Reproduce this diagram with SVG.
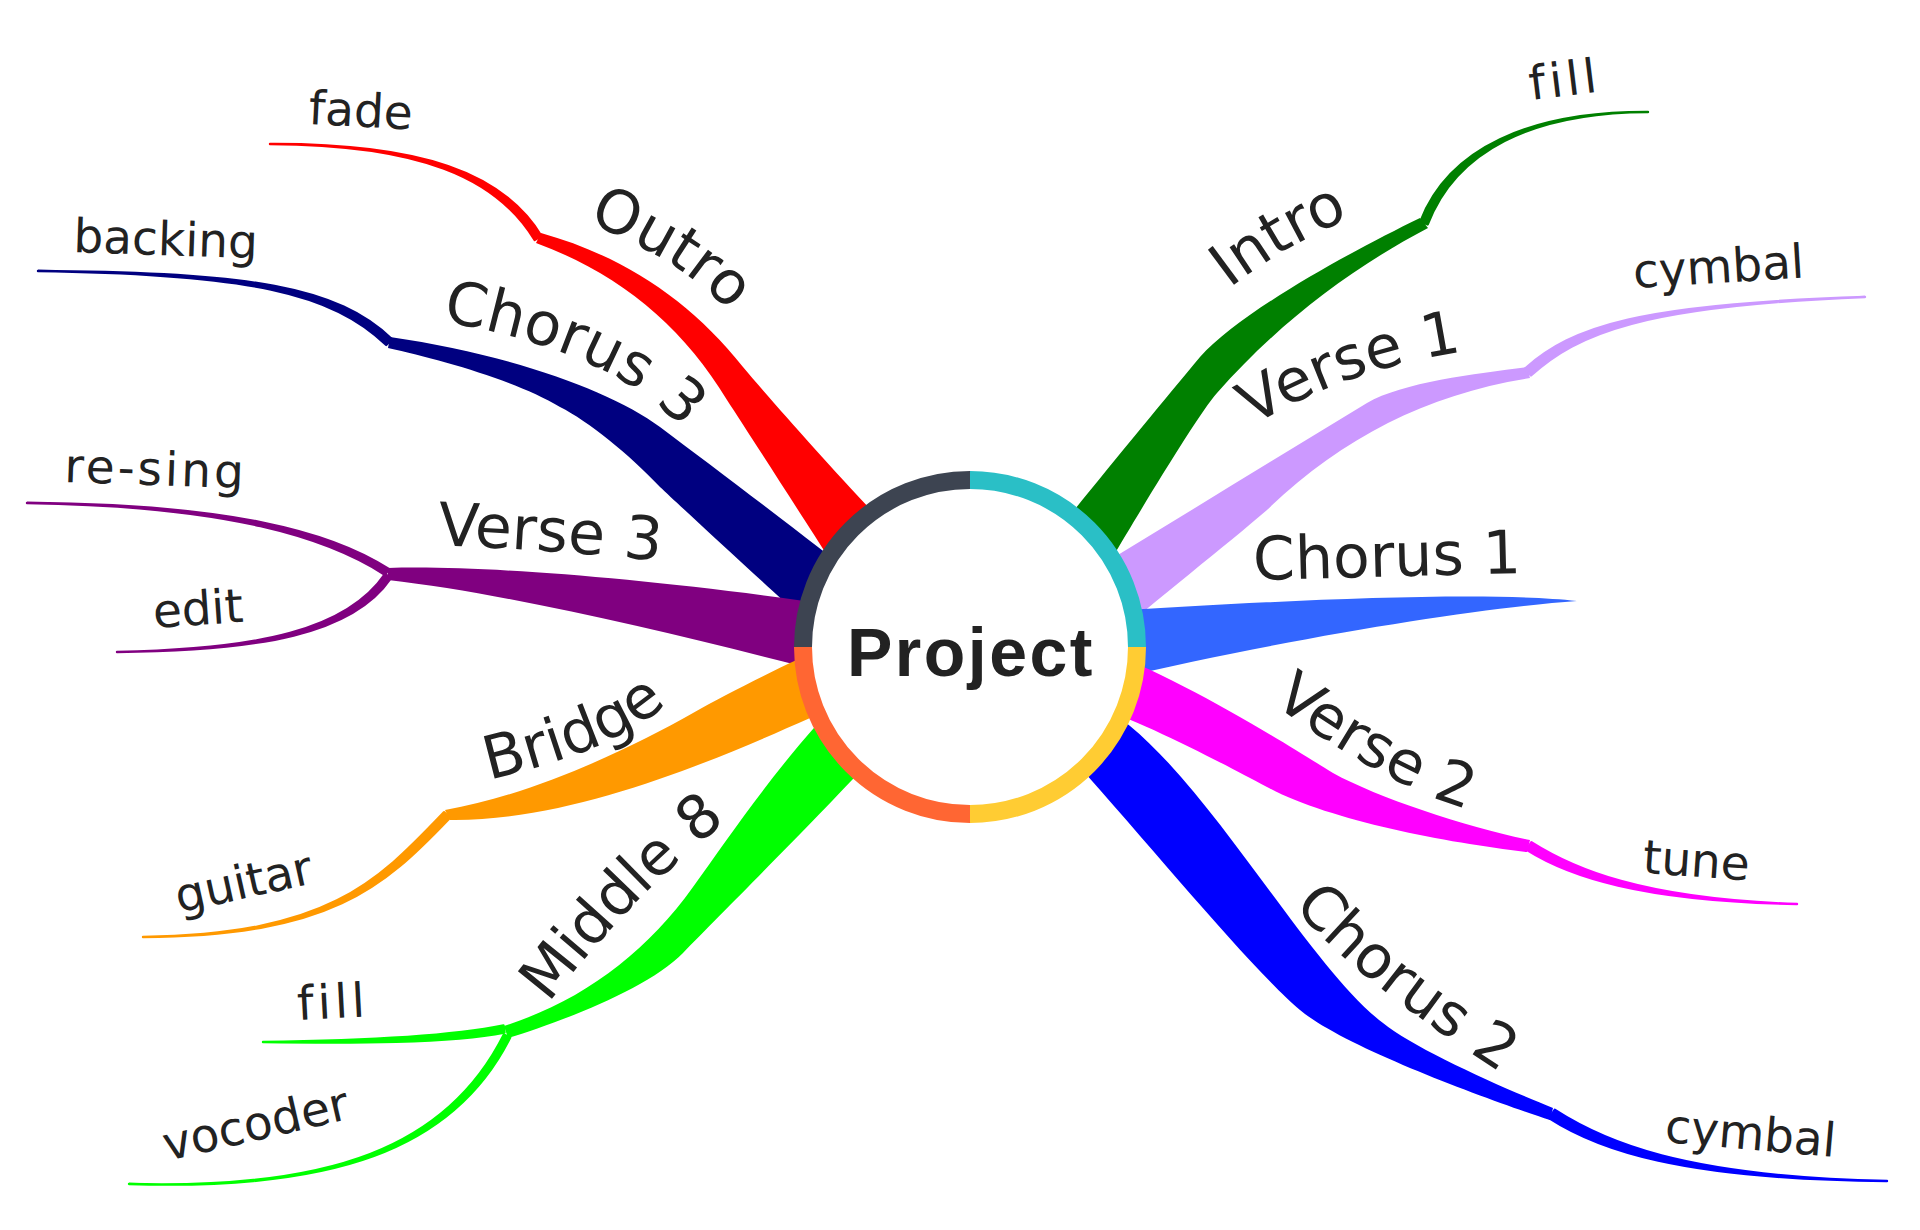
<svg xmlns="http://www.w3.org/2000/svg" width="1920" height="1230" viewBox="0 0 1920 1230">
<style>
.lbl{font-family:"DejaVu Sans","Liberation Sans",sans-serif;font-size:60px;fill:#222222}
.sub{font-family:"DejaVu Sans","Liberation Sans",sans-serif;font-size:47px;fill:#222222}
.thin{stroke-width:2.4;stroke-linejoin:round}
.ring{fill:none;stroke-width:18}
</style>
<defs>
<path id="p-outro" d="M547,206 L584,221 Q686,262 732,315 L758,345"/>
<path id="p-chorus3" d="M399.5,314.5 L439,321 Q614.5,350 684,431 L710,461.4"/>
<path id="p-verse3" d="M388,543.7 L428,545 Q550,549 670,562 L709.8,566.3"/>
<path id="p-bridge" d="M449,789.1 L488,780 Q622.5,748.5 667,703 L695,674.4"/>
<path id="p-middle8" d="M527.4,1030.5 L552,999 Q635,893 722,825 L753.5,800.4"/>
<path id="p-intro" d="M1190.7,318.9 L1222,294 Q1285,244 1358,215 L1395.2,200.2"/>
<path id="p-verse1" d="M1214.1,450.3 L1248,429 Q1345,368 1468,351 L1507.6,345.5"/>
<path id="p-chorus1" d="M1215,581 L1560,572"/>
<path id="p-verse2" d="M1236.6,677.5 L1269,701 Q1389,788 1471,810 L1509.6,820.4"/>
<path id="p-chorus2" d="M1271.4,876.5 L1296,908 Q1346,972 1498,1071 L1531.5,1092.8"/>
</defs>
<rect width="1920" height="1230" fill="#ffffff"/>
<g id="connectors">
<!-- Outro -->
<path fill="#ff0000" d="M541,233 C623,256 690,300 743,367 C775,405 860,500 900,540 L850,590 C835,568 752,438 727,400 C682,325 618,273 536,243 Z"/>
<path class="thin" fill="#ff0000" stroke="#ff0000" d="M541.4,236 C503.4,173 421,143.4 270,144 C419,144.6 496.6,177 534.6,240 Z"/>
<!-- Chorus 3 -->
<path fill="#000080" d="M390,337 C509,354 612,391 660,427 C720,472 810,540 860,580 L830,642 C800,617 690,515 660,487 C630,455 588,421 560,407 C515,380 438,359 388,348 Z"/>
<path class="thin" fill="#000080" stroke="#000080" d="M391.8,339.1 C337.8,287.1 250.8,272.1 38,271 C249.2,273.9 332.2,292.9 386.2,344.9 Z"/>
<!-- Verse 3 -->
<path fill="#800080" d="M388,568 C480,565 650,578 840,606 L840,676 C700,640 520,595 388,580 Z"/>
<path class="thin" fill="#800080" stroke="#800080" d="M388.9,569.1 C331.9,532.1 230.6,504.1 27,503 C229.4,505.9 328.1,537.9 385.1,574.9 Z"/>
<path class="thin" fill="#800080" stroke="#800080" d="M390.9,578 C352.9,634 260.9,650.6 117,652 C259.1,649.4 347.1,630 385.1,574 Z"/>
<!-- Bridge -->
<path fill="#ff9900" d="M445,810 C535,794.5 633,747 693,713 C730,692 790,662 830,645 L850,700 C760,740 590,822 450,820 Z"/>
<path class="thin" fill="#ff9900" stroke="#ff9900" d="M449.9,817.8 C382.9,887.8 330.9,935.8 143,937 C329.1,934.2 377.1,882.2 444.1,812.2 Z"/>
<!-- Middle 8 -->
<path fill="#00ff00" d="M504,1026 C582,1001 645,954 693,887 C733,831 789,749 850,690 L880,750 C830,805 730,905 683,953 C648,989 558,1023 508,1038 Z"/>
<path class="thin" fill="#00ff00" stroke="#00ff00" d="M504.5,1032.5 C450.5,1043.5 350.2,1043 263,1042 C349.8,1041 449.5,1036.5 503.5,1025.5 Z"/>
<path class="thin" fill="#00ff00" stroke="#00ff00" d="M510.2,1037.5 C453.2,1151.5 331,1190.5 129,1184 C329,1189.5 446.9,1148.5 503.9,1034.5 Z"/>
<!-- Intro -->
<path fill="#008000" d="M1050,540 C1100,478 1160,405 1200,357 C1240,312 1350,252 1420,218 L1428,228 C1348,270 1277,325 1217,393 C1193,420 1110,562 1090,595 Z"/>
<path class="thin" fill="#008000" stroke="#008000" d="M1427.7,224.4 C1455.7,151.4 1531.1,112.4 1648,112 C1528.9,111.6 1448.3,148.6 1420.3,221.6 Z"/>
<!-- Verse 1 -->
<path fill="#cc99ff" d="M1085,575 C1179,518 1273,460 1367,403 C1402,382 1477,373.6 1527,367 L1530,378 C1428,394 1341,438 1267,510 C1230,542 1150,605 1110,640 Z"/>
<path class="thin" fill="#cc99ff" stroke="#cc99ff" d="M1531,375.4 C1578,333.4 1640.9,306 1865,297 C1639.1,304 1572,326.6 1525,368.6 Z"/>
<!-- Chorus 1 -->
<path fill="#3366ff" d="M1100,612 C1250,602 1480,590 1577,601 C1480,608 1300,636 1110,680 Z"/>
<!-- Verse 2 -->
<path fill="#ff00ff" d="M1100,650 C1170,672 1280,740 1333,773 C1378,798 1470,828 1530,840 L1527,852 C1447,843 1327,820 1267,787 C1220,762 1140,720 1090,705 Z"/>
<path class="thin" fill="#ff00ff" stroke="#ff00ff" d="M1526.6,849.8 C1567.6,875.8 1639.3,901.1 1797,904 C1640.7,898.9 1572.4,868.2 1531.4,842.2 Z"/>
<!-- Chorus 2 -->
<path fill="#0000ff" d="M1090,700 C1190,745 1300,960 1383,1023 C1413,1048 1503,1088 1553,1108 L1550,1120 C1495,1102 1345,1048 1300,1010 C1250,968 1140,833 1060,745 Z"/>
<path class="thin" fill="#0000ff" stroke="#0000ff" d="M1549.3,1118.2 C1597.3,1149.2 1679.2,1179.3 1887,1181 C1680.8,1176.7 1602.7,1140.8 1554.7,1109.8 Z"/>
</g>
<g id="node-project">
<circle cx="970" cy="647" r="162" fill="#ffffff"/>
<path class="ring" stroke="#3d4451" d="M803,647 A167,167 0 0 1 970,480"/>
<path class="ring" stroke="#2abfc6" d="M970,480 A167,167 0 0 1 1137,647"/>
<path class="ring" stroke="#ffcc33" d="M1137,647 A167,167 0 0 1 970,814"/>
<path class="ring" stroke="#ff6633" d="M970,814 A167,167 0 0 1 803,647"/>
<text x="971" y="676" text-anchor="middle" style="font-family:'Liberation Sans',Arial,sans-serif;font-weight:bold;font-size:68px;letter-spacing:2.5px;fill:#222222">Project</text>
</g>
<g id="node-outro"><text class="lbl" text-anchor="middle"><textPath href="#p-outro" startOffset="50%">Outro</textPath></text></g>
<g id="node-chorus3"><text class="lbl" text-anchor="middle"><textPath href="#p-chorus3" startOffset="50%">Chorus 3</textPath></text></g>
<g id="node-verse3"><text class="lbl" text-anchor="middle"><textPath href="#p-verse3" startOffset="50%">Verse 3</textPath></text></g>
<g id="node-bridge"><text class="lbl" text-anchor="middle"><textPath href="#p-bridge" startOffset="50%">Bridge</textPath></text></g>
<g id="node-middle8"><text class="lbl" text-anchor="middle"><textPath href="#p-middle8" startOffset="50%">Middle 8</textPath></text></g>
<g id="node-intro"><text class="lbl" text-anchor="middle"><textPath href="#p-intro" startOffset="50%">Intro</textPath></text></g>
<g id="node-verse1"><text class="lbl" text-anchor="middle"><textPath href="#p-verse1" startOffset="50%">Verse 1</textPath></text></g>
<g id="node-chorus1"><text class="lbl" text-anchor="middle"><textPath href="#p-chorus1" startOffset="50%">Chorus 1</textPath></text></g>
<g id="node-verse2"><text class="lbl" text-anchor="middle"><textPath href="#p-verse2" startOffset="50%">Verse 2</textPath></text></g>
<g id="node-chorus2"><text class="lbl" text-anchor="middle"><textPath href="#p-chorus2" startOffset="50%">Chorus 2</textPath></text></g>
<g id="node-fade"><text class="sub" transform="translate(308,124) rotate(3)">fade</text></g>
<g id="node-backing"><text class="sub" transform="translate(73,252) rotate(2)">backing</text></g>
<g id="node-resing"><text class="sub" transform="translate(64,482) rotate(2)" letter-spacing="3">re-sing</text></g>
<g id="node-edit"><text class="sub" transform="translate(154,628) rotate(-4)">edit</text></g>
<g id="node-guitar"><text class="sub" transform="translate(179,913) rotate(-12.5)">guitar</text></g>
<g id="node-fill2"><text class="sub" transform="translate(298,1020) rotate(-3)" letter-spacing="4">fill</text></g>
<g id="node-vocoder"><text class="sub" transform="translate(167,1161) rotate(-13)">vocoder</text></g>
<g id="node-fill1"><text class="sub" transform="translate(1531,100) rotate(-7)" letter-spacing="4">fill</text></g>
<g id="node-cymbal1"><text class="sub" transform="translate(1634,288) rotate(-3.5)">cymbal</text></g>
<g id="node-tune"><text class="sub" transform="translate(1642,873) rotate(4)">tune</text></g>
<g id="node-cymbal2"><text class="sub" transform="translate(1664,1142) rotate(5)">cymbal</text></g>
</svg>
